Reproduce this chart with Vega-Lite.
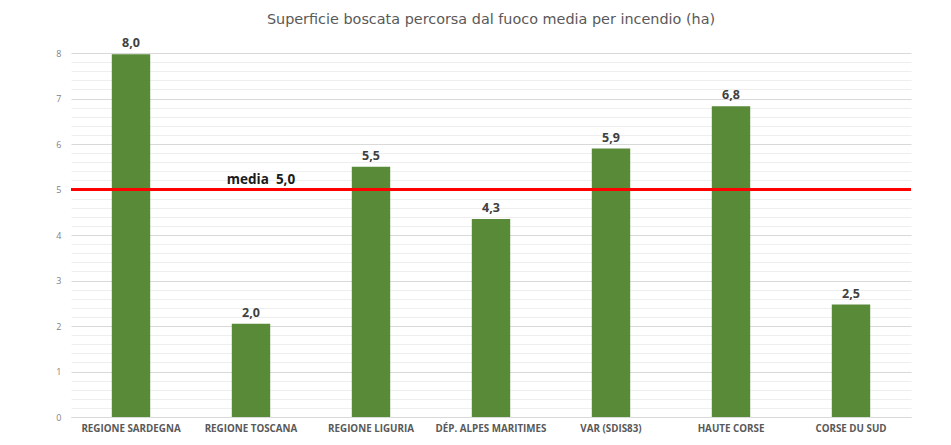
{
  "$schema": "https://vega.github.io/schema/vega-lite/v6.json",
  "width": 840,
  "height": 364,
  "autosize": "none",
  "padding": {"left": 71, "top": 53, "right": 40, "bottom": 28},
  "background": "white",
  "title": {
    "text": "Superficie boscata percorsa dal fuoco media per incendio (ha)",
    "font": "DejaVu Sans",
    "fontSize": 14.4,
    "fontWeight": "normal",
    "color": "#595959",
    "anchor": "middle",
    "offset": 10
  },
  "datasets": {
    "bars": [
      {"region": "REGIONE SARDEGNA", "value": 7.97, "label": "8,0"},
      {"region": "REGIONE TOSCANA", "value": 2.05, "label": "2,0"},
      {"region": "REGIONE LIGURIA", "value": 5.5, "label": "5,5"},
      {"region": "DÉP. ALPES MARITIMES", "value": 4.35, "label": "4,3"},
      {"region": "VAR (SDIS83)", "value": 5.9, "label": "5,9"},
      {"region": "HAUTE CORSE", "value": 6.83, "label": "6,8"},
      {"region": "CORSE DU SUD", "value": 2.47, "label": "2,5"}
    ],
    "mean": [
      {"region": "REGIONE TOSCANA", "value": 5.0, "label": "media\u00a0 5,0"}
    ]
  },
  "encoding": {
    "y": {
      "field": "value",
      "type": "quantitative",
      "scale": {"domain": [0, 8], "nice": false},
      "axis": {
        "title": null,
        "values": [0, 0.2, 0.4, 0.6, 0.8, 1, 1.2, 1.4, 1.6, 1.8, 2, 2.2, 2.4, 2.6, 2.8, 3, 3.2, 3.4, 3.6, 3.8, 4, 4.2, 4.4, 4.6, 4.8, 5, 5.2, 5.4, 5.6, 5.8, 6, 6.2, 6.4, 6.6, 6.8, 7, 7.2, 7.4, 7.6, 7.8, 8],
        "labelExpr": "datum.value % 1 === 0 ? format(datum.value, 'd') : ''",
        "labelFont": "Open Sans",
        "labelFontSize": 9,
        "labelColor": "#7f7f7f",
        "labelPadding": 10,
        "ticks": false,
        "domain": false,
        "grid": true,
        "gridColor": {"condition": {"test": "datum.value % 1 === 0", "value": "#d9d9d9"}, "value": "#eeeeee"},
        "gridWidth": 1
      }
    }
  },
  "layer": [
    {
      "data": {"name": "bars"},
      "mark": {"type": "bar", "color": "#588a38"},
      "encoding": {
        "x": {
          "field": "region",
          "type": "nominal",
          "sort": null,
          "scale": {"paddingInner": 0.68, "paddingOuter": 0.34},
          "axis": {
            "title": null,
            "labelAngle": 0,
            "labelFont": "Open Sans",
            "labelFontSize": 9.8,
            "labelFontWeight": "bold",
            "labelColor": "#595959",
            "labelPadding": 6,
            "ticks": false,
            "domainColor": "#d9d9d9",
            "grid": false
          }
        }
      }
    },
    {
      "data": {"name": "bars"},
      "mark": {"type": "text", "font": "Open Sans", "fontSize": 12.5, "fontWeight": "bold", "color": "#404040", "baseline": "bottom", "dy": -4},
      "encoding": {
        "x": {"field": "region", "type": "nominal", "sort": null},
        "text": {"field": "label"}
      }
    },
    {
      "data": {"name": "mean"},
      "mark": {"type": "rule", "color": "#ff0000", "strokeWidth": 3},
      "encoding": {}
    },
    {
      "data": {"name": "mean"},
      "mark": {"type": "text", "font": "Open Sans", "fontSize": 13.5, "fontWeight": "bold", "color": "#1a1a1a", "baseline": "bottom", "dy": -3, "dx": 10},
      "encoding": {
        "x": {"field": "region", "type": "nominal", "sort": null},
        "text": {"field": "label"}
      }
    }
  ],
  "config": {"view": {"stroke": null}}
}
